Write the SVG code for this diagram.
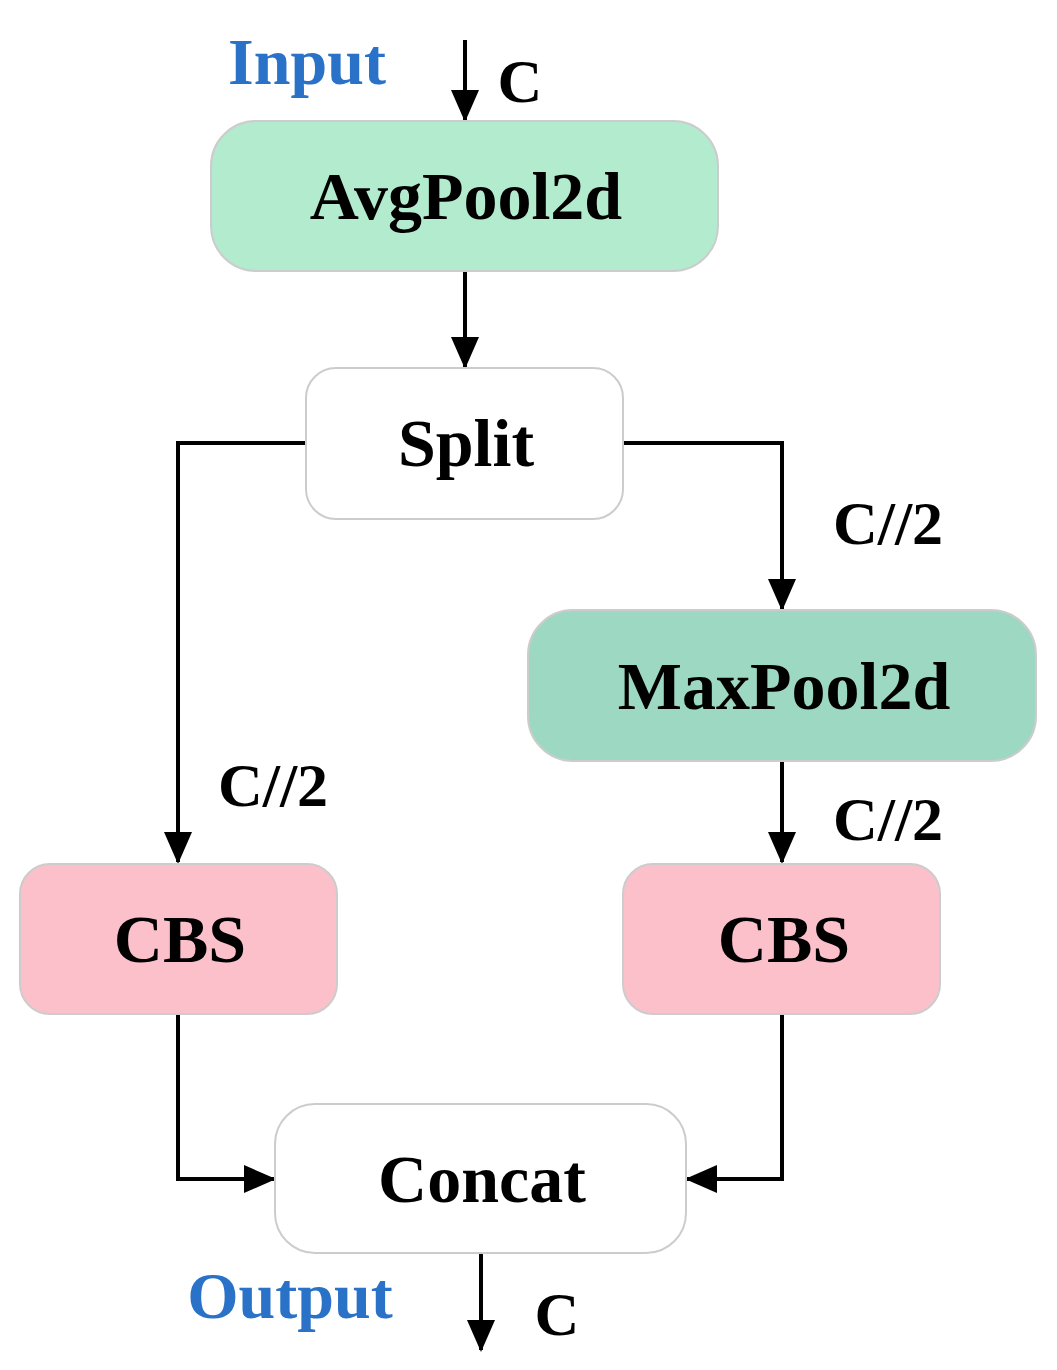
<svg xmlns="http://www.w3.org/2000/svg" width="1057" height="1370" viewBox="0 0 1057 1370">
<style>
.t{font-family:"Liberation Serif",serif;font-weight:bold;text-anchor:middle;fill:#000}
.b{font-size:68px}
.l{font-size:62px}
.blue{fill:#2a72c8;font-size:66px}
.box{stroke:#cccccc;stroke-width:2}
.c{fill:none;stroke:#000;stroke-width:4;marker-end:url(#ah)}
</style>
<defs>
<marker id="ah" markerUnits="userSpaceOnUse" markerWidth="32" markerHeight="32" viewBox="0 0 32 32" refX="30" refY="16" orient="auto">
<path d="M0,2 L32,16 L0,30 Z" fill="#000"/>
</marker>
</defs>
<g id="connectors">
<path class="c" d="M465,40 V120"/>
<path class="c" d="M465,271 V367"/>
<path class="c" d="M306,443 H178 V862"/>
<path class="c" d="M623,443 H782 V609"/>
<path class="c" d="M782,761 V862"/>
<path class="c" d="M178,1014 V1179 H274"/>
<path class="c" d="M782,1014 V1179 H687"/>
<path class="c" d="M481,1253 V1350"/>
</g>
<g id="labels">
<text class="t blue" x="307" y="84">Input</text>
<text class="t l" x="520" y="102">C</text>
<text class="t l" x="888" y="544">C//2</text>
<text class="t l" x="273" y="806">C//2</text>
<text class="t l" x="888" y="840">C//2</text>
<text class="t blue" x="290" y="1318">Output</text>
<text class="t l" x="557" y="1335">C</text>
</g>
<g id="avgpool"><rect class="box" x="211" y="121" width="507" height="150" rx="45" fill="#b3ebcf"/><text class="t b" x="466" y="219">AvgPool2d</text></g>
<g id="split"><rect class="box" x="306" y="368" width="317" height="151" rx="30" fill="#fff"/><text class="t b" x="466" y="466">Split</text></g>
<g id="maxpool"><rect class="box" x="528" y="610" width="508" height="151" rx="45" fill="#9dd9c2"/><text class="t b" x="784" y="709">MaxPool2d</text></g>
<g id="cbs-left"><rect class="box" x="20" y="864" width="317" height="150" rx="30" fill="#fcc0cb"/><text class="t b" x="180" y="962">CBS</text></g>
<g id="cbs-right"><rect class="box" x="623" y="864" width="317" height="150" rx="30" fill="#fcc0cb"/><text class="t b" x="784" y="962">CBS</text></g>
<g id="concat"><rect class="box" x="275" y="1104" width="411" height="149" rx="40" fill="#fff"/><text class="t b" x="482" y="1202">Concat</text></g>
</svg>
